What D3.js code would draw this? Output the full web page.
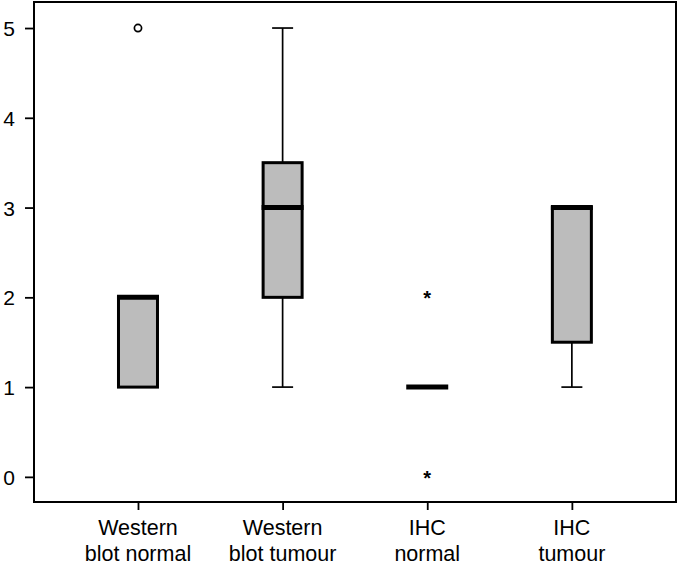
<!DOCTYPE html>
<html>
<head>
<meta charset="utf-8">
<script src="https://cdn.jsdelivr.net/npm/d3@7"></script>
<style>
  html, body { margin: 0; padding: 0; background: #fff; }
  svg { display: block; }
  text { font-family: "Liberation Sans", Arial, Helvetica, sans-serif; fill: #000; }
</style>
</head>
<body>
<svg id="chart" width="679" height="567"></svg>
<script>
// ---- data ----
const categories = [["Western", "blot normal"], ["Western", "blot tumour"], ["IHC", "normal"], ["IHC", "tumour"]];
const whiskerLow  = [1, 1, 1, 1];
const q1          = [1, 2, 1, 1.5];
const medians     = [2, 3, 1, 3];
const q3          = [2, 3.5, 1, 3];
const whiskerHigh = [2, 5, 1, 3];
const outliersCircle = [[5], [], [], []];   // mild outliers (o)
const outliersStar   = [[], [], [2, 0], []]; // extreme outliers (*)
const yTicks = [0, 1, 2, 3, 4, 5];

// ---- scales ----
const svg = d3.select("#chart");
const x = d3.scaleLinear().domain([0.281, 4.72]).range([34, 676]);
const y = d3.scaleLinear().domain([-0.28, 5.29]).range([502, 2]);

const boxHalf = 21;
const capHalf = 10.5;

// frame
svg.append("rect")
  .attr("x", x(0.281)).attr("y", y(5.29))
  .attr("width", x(4.72) - x(0.281)).attr("height", y(-0.28) - y(5.29))
  .attr("fill", "none").attr("stroke", "#000").attr("stroke-width", 2);

// y axis
const yAxis = d3.axisLeft(y).tickValues(yTicks).tickSize(9).tickPadding(10).tickFormat(d3.format("d"));
const gy = svg.append("g").attr("transform", `translate(${x(0.281)},0)`).call(yAxis);
gy.attr("font-size", 21).attr("font-family", '"Liberation Sans", Arial, sans-serif');
gy.select(".domain").remove();
gy.selectAll(".tick line").attr("stroke", "#000").attr("stroke-width", 1.8);
gy.selectAll(".tick text").attr("fill", "#000").attr("dy", "0.36em");

// x axis
const idx = categories.map((d, i) => i + 1);
const xAxis = d3.axisBottom(x).tickValues(idx).tickSize(8).tickFormat("");
const gx = svg.append("g").attr("transform", `translate(0,${y(-0.28)})`).call(xAxis);
gx.select(".domain").remove();
gx.selectAll(".tick line").attr("stroke", "#000").attr("stroke-width", 1.8);

// category labels
categories.forEach((lines, i) => {
  const t = svg.append("text").attr("x", x(i + 1)).attr("text-anchor", "middle").attr("font-size", 21.5);
  lines.forEach((ln, j) => {
    t.append("tspan").attr("x", x(i + 1)).attr("y", 535 + j * 26).text(ln);
  });
});

// boxes
idx.forEach((c, i) => {
  const cx = x(c);
  const g = svg.append("g");
  // whiskers
  if (whiskerHigh[i] > q3[i]) {
    g.append("line").attr("x1", cx).attr("x2", cx).attr("y1", y(q3[i])).attr("y2", y(whiskerHigh[i]))
      .attr("stroke", "#000").attr("stroke-width", 1.7);
    g.append("line").attr("x1", cx - capHalf).attr("x2", cx + capHalf).attr("y1", y(whiskerHigh[i])).attr("y2", y(whiskerHigh[i]))
      .attr("stroke", "#000").attr("stroke-width", 1.7);
  }
  if (whiskerLow[i] < q1[i]) {
    g.append("line").attr("x1", cx).attr("x2", cx).attr("y1", y(q1[i])).attr("y2", y(whiskerLow[i]))
      .attr("stroke", "#000").attr("stroke-width", 1.7);
    g.append("line").attr("x1", cx - capHalf).attr("x2", cx + capHalf).attr("y1", y(whiskerLow[i])).attr("y2", y(whiskerLow[i]))
      .attr("stroke", "#000").attr("stroke-width", 1.7);
  }
  // box
  if (q3[i] > q1[i]) {
    g.append("rect").attr("x", cx - boxHalf + 1.5).attr("width", 2 * boxHalf - 3)
      .attr("y", y(q3[i])).attr("height", y(q1[i]) - y(q3[i]))
      .attr("fill", "#bcbcbc").attr("stroke", "#000").attr("stroke-width", 3);
  }
  // median
  g.append("line").attr("x1", cx - boxHalf).attr("x2", cx + boxHalf)
    .attr("y1", y(medians[i])).attr("y2", y(medians[i]))
    .attr("stroke", "#000").attr("stroke-width", 5);
  // outliers
  outliersCircle[i].forEach(v => {
    g.append("circle").attr("cx", cx).attr("cy", y(v)).attr("r", 3.6)
      .attr("fill", "none").attr("stroke", "#000").attr("stroke-width", 1.7);
  });
  outliersStar[i].forEach(v => {
    g.append("text").attr("x", cx).attr("y", y(v) + 8).attr("text-anchor", "middle")
      .attr("font-size", 20).attr("font-weight", "bold").text("*");
  });
});
</script>
</body>
</html>
